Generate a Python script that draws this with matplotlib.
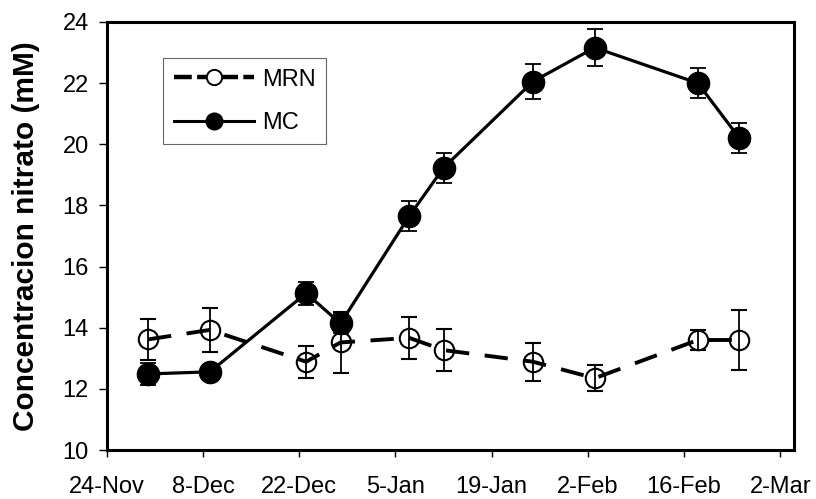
import datetime as dt
import numpy as np
import matplotlib.pyplot as plt
import matplotlib.dates as mdates
from matplotlib.lines import Line2D

plt.rcParams['font.family'] = ['Liberation Sans', 'DejaVu Sans']

# sampling dates (days counted from 24-Nov)
start = dt.date(2001, 11, 24)
days = [6, 15, 29, 34, 44, 49, 62, 71, 86, 92]
dates = [start + dt.timedelta(days=d) for d in days]

mrn = [13.62, 13.93, 12.89, 13.52, 13.67, 13.27, 12.89, 12.35, 13.60, 13.60]
mrn_err = [0.68, 0.72, 0.53, 1.00, 0.68, 0.68, 0.62, 0.42, 0.33, 0.98]

mc = [12.49, 12.56, 15.13, 14.14, 17.65, 19.23, 22.05, 23.16, 22.00, 20.22]
mc_err = [0.35, 0.10, 0.37, 0.30, 0.48, 0.48, 0.58, 0.60, 0.48, 0.49]

fig = plt.figure(figsize=(8.16, 4.99), dpi=100)
ax = fig.add_axes([0.131, 0.098, 0.842, 0.858])

ax.errorbar(dates, mrn, yerr=mrn_err, color='black', lw=2.8, dashes=(6, 4),
            marker='o', ms=14, mfc='none', mec='black', mew=1.5,
            ecolor='black', elinewidth=1.3, capsize=6, capthick=1.3, zorder=2)
ax.errorbar(dates, mc, yerr=mc_err, color='black', lw=2.3,
            marker='o', ms=16, mfc='black', mec='black',
            ecolor='black', elinewidth=1.3, capsize=6, capthick=1.3, zorder=3)

ax.set_ylim(10, 24)
ax.set_yticks(np.arange(10, 25, 2))
ax.set_xlim(mdates.date2num(start), mdates.date2num(start + dt.timedelta(days=100.2)))
ax.set_xticks([start + dt.timedelta(days=14 * i) for i in range(8)])
ax.xaxis.set_major_formatter(mdates.DateFormatter('%-d-%b'))

ax.tick_params(axis='x', direction='out', length=5, width=1, labelsize=17, pad=14)
ax.tick_params(axis='y', direction='out', length=6, width=1, labelsize=17, pad=7)
for s in ax.spines.values():
    s.set_linewidth(2.2)

ax.set_ylabel('Concentracion nitrato (mM)', fontsize=21.5, fontweight='bold', labelpad=16)

handles = [
    Line2D([], [], color='black', lw=3.2, dashes=(4, 1.2), marker='o', ms=11,
           mfc='white', mec='black', mew=1.4),
    Line2D([], [], color='black', lw=2.2, marker='o', ms=12, mfc='black', mec='black'),
]
leg = ax.legend(handles, ['MRN', 'MC'], loc='upper left', bbox_to_anchor=(0.0815, 0.916),
                borderaxespad=0, fontsize=17, frameon=True, fancybox=False,
                edgecolor='#404040', handlelength=3.4, borderpad=0.45,
                labelspacing=0.9, handletextpad=0.35)
leg.get_frame().set_linewidth(0.8)

fig.savefig('out.png', dpi=100)
